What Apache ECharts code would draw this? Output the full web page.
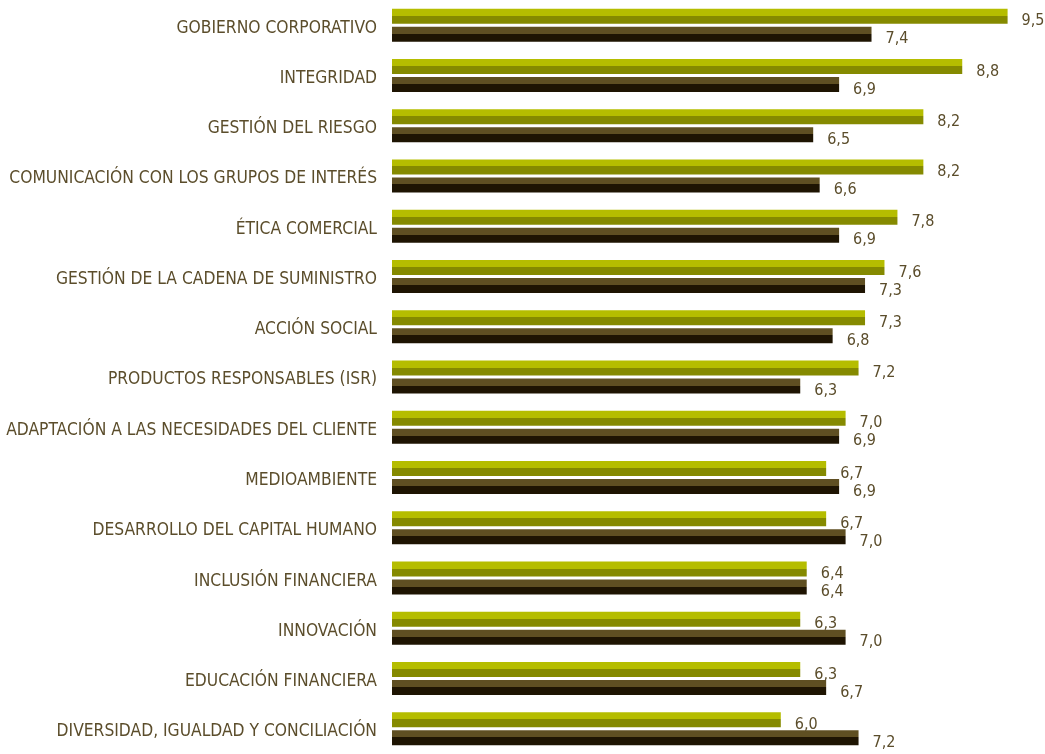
<!DOCTYPE html>
<html>
<head>
<meta charset="utf-8">
<script src="https://cdn.jsdelivr.net/npm/echarts@6/dist/echarts.min.js"></script>
<style>
  html, body { margin: 0; padding: 0; background: #fff; }
  #chart { width: 1045px; height: 754px; }
</style>
</head>
<body>
<div id="chart"></div>
<script>
const categories = [
  'GOBIERNO CORPORATIVO',
  'INTEGRIDAD',
  'GESTIÓN DEL RIESGO',
  'COMUNICACIÓN CON LOS GRUPOS DE INTERÉS',
  'ÉTICA COMERCIAL',
  'GESTIÓN DE LA CADENA DE SUMINISTRO',
  'ACCIÓN SOCIAL',
  'PRODUCTOS RESPONSABLES (ISR)',
  'ADAPTACIÓN A LAS NECESIDADES DEL CLIENTE',
  'MEDIOAMBIENTE',
  'DESARROLLO DEL CAPITAL HUMANO',
  'INCLUSIÓN FINANCIERA',
  'INNOVACIÓN',
  'EDUCACIÓN FINANCIERA',
  'DIVERSIDAD, IGUALDAD Y CONCILIACIÓN'
];
const importancia = [9.5, 8.8, 8.2, 8.2, 7.8, 7.6, 7.3, 7.2, 7.0, 6.7, 6.7, 6.4, 6.3, 6.3, 6.0];
const desempeno = [7.4, 6.9, 6.5, 6.6, 6.9, 7.3, 6.8, 6.3, 6.9, 6.9, 7.0, 6.4, 7.0, 6.7, 7.2];

const textColor = '#5b4d2b';
const fontName = 'DejaVu Sans Condensed';

// barra de dos tonos: mitad superior clara, inferior oscura
function twoTone(top, bottom) {
  return new echarts.graphic.LinearGradient(0, 0, 0, 1, [
    { offset: 0, color: top },
    { offset: 0.47, color: top },
    { offset: 0.47, color: bottom },
    { offset: 1, color: bottom }
  ]);
}

const valueLabel = {
  show: true,
  position: 'right',
  distance: 14,
  offset: [0, 5],
  color: textColor,
  fontFamily: fontName,
  fontSize: 16,
  formatter: (p) => p.value.toFixed(1).replace('.', ',')
};

const myChart = echarts.init(document.getElementById('chart'));
myChart.setOption({
  animation: false,
  grid: { left: 392, right: 5, top: 0, height: 760 },
  xAxis: {
    type: 'value',
    min: 0,
    max: 10,
    show: false
  },
  yAxis: {
    type: 'category',
    inverse: true,
    data: categories,
    axisLine: { show: false },
    axisTick: { show: false },
    axisLabel: {
      margin: 15,
      formatter: (v) => '{c|' + v + '}',
      rich: {
        c: {
          padding: [6, 0, 0, 0],
          color: textColor,
          fontFamily: fontName,
          fontSize: 17.3
        }
      }
    }
  },
  series: [
    {
      type: 'bar',
      name: 'Importancia',
      data: importancia,
      barWidth: 15,
      barGap: '20%',
      itemStyle: { color: twoTone('#b5bd00', '#858a00') },
      label: valueLabel
    },
    {
      type: 'bar',
      name: 'Desempeño',
      data: desempeno,
      barWidth: 15,
      itemStyle: { color: twoTone('#5f4f22', '#1e1402') },
      label: valueLabel
    }
  ]
});
</script>
</body>
</html>
